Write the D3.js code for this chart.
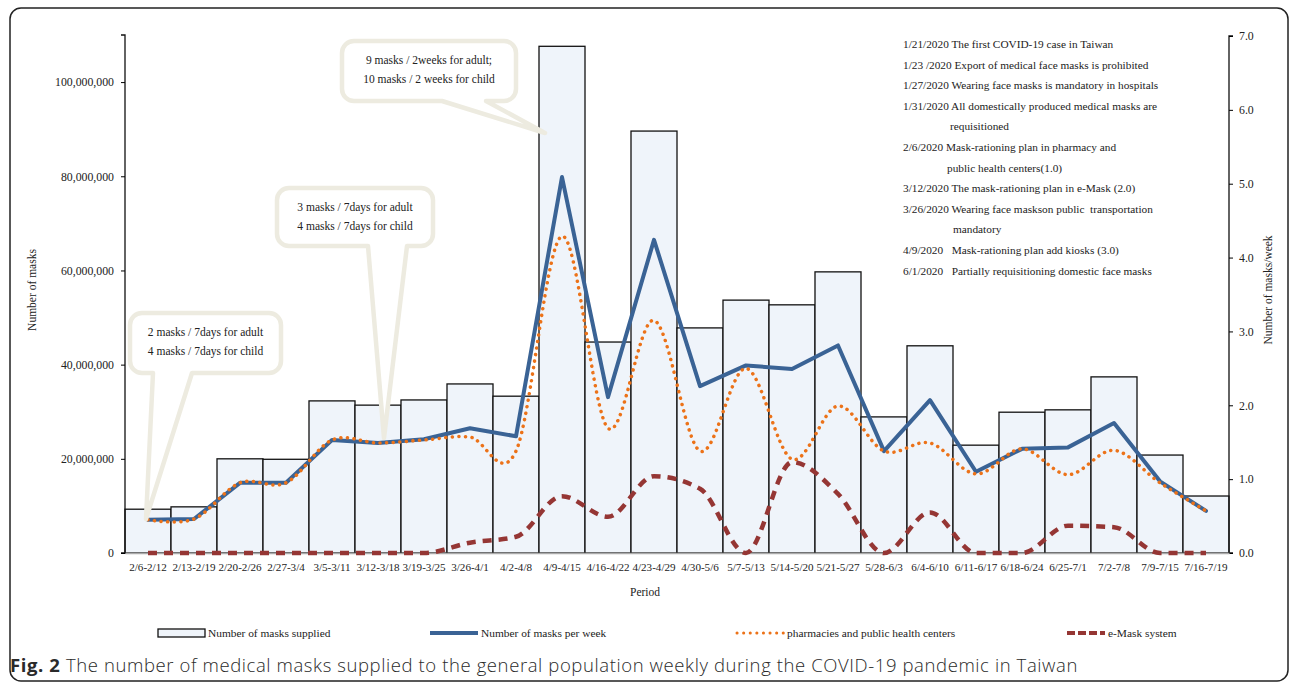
<!DOCTYPE html>
<html>
<head>
<meta charset="utf-8">
<script src="https://cdn.jsdelivr.net/npm/d3@7"></script>
<style>
  body { margin: 0; background: #fff; }
  svg text { font-family: "Liberation Serif", "Times New Roman", serif; fill: #222; white-space: pre; }
  .caption text { font-family: "Open Sans", "Noto Sans", sans-serif; fill: #2a2a2a; }
</style>
</head>
<body>
<div id="chart"></div>
<script>
// Weekly periods
const periods = ["2/6-2/12", "2/13-2/19", "2/20-2/26", "2/27-3/4", "3/5-3/11", "3/12-3/18",
  "3/19-3/25", "3/26-4/1", "4/2-4/8", "4/9-4/15", "4/16-4/22", "4/23-4/29", "4/30-5/6",
  "5/7-5/13", "5/14-5/20", "5/21-5/27", "5/28-6/3", "6/4-6/10", "6/11-6/17", "6/18-6/24",
  "6/25-7/1", "7/2-7/8", "7/9-7/15", "7/16-7/19"];

// Number of masks supplied (left axis)
const masksSupplied = [9.3e6, 9.8e6, 20.0e6, 19.9e6, 32.3e6, 31.4e6, 32.5e6, 35.9e6, 33.3e6,
  107.6e6, 44.8e6, 89.6e6, 47.8e6, 53.7e6, 52.7e6, 59.7e6, 28.9e6, 44.0e6, 22.9e6, 29.9e6,
  30.4e6, 37.4e6, 20.8e6, 12.1e6];

// Masks per week (right axis)
const perWeek = [0.45, 0.46, 0.95, 0.95, 1.53, 1.49, 1.54, 1.69, 1.58, 5.09, 2.11, 4.24,
  2.26, 2.54, 2.49, 2.81, 1.38, 2.07, 1.10, 1.41, 1.43, 1.76, 0.97, 0.57];
const pharmacies = [0.45, 0.46, 0.95, 0.95, 1.53, 1.49, 1.53, 1.57, 1.38, 4.29, 1.69, 3.15,
  1.38, 2.50, 1.27, 1.99, 1.38, 1.49, 1.07, 1.41, 1.06, 1.39, 0.95, 0.57];
const eMask = [0, 0, 0, 0, 0, 0, 0, 0.14, 0.22, 0.77, 0.49, 1.04, 0.87, 0, 1.23, 0.80, 0,
  0.55, 0, 0, 0.37, 0.35, 0, 0];

const leftTicks = [0, 20e6, 40e6, 60e6, 80e6, 100e6];
const rightTicks = [0, 1, 2, 3, 4, 5, 6, 7];

const events = [
  ["1/21/2020 The first COVID-19 case in Taiwan"],
  ["1/23 /2020 Export of medical face masks is prohibited"],
  ["1/27/2020 Wearing face masks is mandatory in hospitals"],
  ["1/31/2020 All domestically produced medical masks are", "requisitioned"],
  ["2/6/2020 Mask-rationing plan in pharmacy and", "public health centers(1.0)"],
  ["3/12/2020 The mask-rationing plan in e-Mask (2.0)"],
  ["3/26/2020 Wearing face maskson public  transportation", "mandatory"],
  ["4/9/2020   Mask-rationing plan add kiosks (3.0)"],
  ["6/1/2020   Partially requisitioning domestic face masks"]
];

const callouts = [
  { lines: ["2 masks / 7days for adult", "4 masks / 7days for child"] },
  { lines: ["3 masks / 7days for adult", "4 masks / 7days for child"] },
  { lines: ["9 masks / 2weeks for adult;", "10 masks / 2 weeks for child"] }
];

const legendItems = ["Number of masks supplied", "Number of masks per week",
  "pharmacies and public health centers", "e-Mask system"];

const W = 1292, H = 683;
const margin = { top: 35, right: 63, bottom: 130, left: 125 };
const plotW = W - margin.left - margin.right;
const plotH = H - margin.top - margin.bottom;

const svg = d3.select("#chart").append("svg")
  .attr("width", W).attr("height", H);

// Outer frame
svg.append("rect")
  .attr("x", 10).attr("y", 8).attr("width", 1278).attr("height", 673)
  .attr("rx", 11).attr("fill", "none").attr("stroke", "#222").attr("stroke-width", 1.5);

const g = svg.append("g").attr("transform", `translate(${margin.left},${margin.top})`);

const x = d3.scaleBand().domain(periods).range([0, plotW]).padding(0);
const yL = d3.scaleLinear().domain([0, 110e6]).range([plotH, 0]);
const yR = d3.scaleLinear().domain([0, 7]).range([plotH, 1]);

// Bars
g.selectAll(".bar").data(periods).enter().append("rect")
  .attr("class", "bar")
  .attr("x", d => x(d))
  .attr("width", x.bandwidth())
  .attr("y", (d, i) => yL(masksSupplied[i]))
  .attr("height", (d, i) => plotH - yL(masksSupplied[i]))
  .attr("fill", "#eff4fa").attr("stroke", "#111").attr("stroke-width", 1.3);

// Left axis
const axL = g.append("g")
  .call(d3.axisLeft(yL).tickValues(leftTicks).tickSize(4).tickPadding(7)
    .tickFormat(d3.format(",")));
axL.select(".domain").attr("d", `M-4,0H0V${plotH}H-4`).attr("stroke", "#111").attr("stroke-width", 1.3);
axL.selectAll("text").style("font-size", "11.8px").style("font-family", "Liberation Serif");

// Right axis
const axR = g.append("g").attr("transform", `translate(${plotW},0)`)
  .call(d3.axisRight(yR).tickValues(rightTicks).tickSize(4).tickPadding(6)
    .tickFormat(d3.format(".1f")));
axR.select(".domain").attr("d", `M4,1H0V${plotH}H4`).attr("stroke", "#111").attr("stroke-width", 1.3);
axR.selectAll("text").style("font-size", "11.8px").style("font-family", "Liberation Serif");

// Bottom axis
const axB = g.append("g").attr("transform", `translate(0,${plotH})`)
  .call(d3.axisBottom(x).tickSize(0).tickPadding(10));
axB.select(".domain").attr("stroke", "#aaa").attr("stroke-width", 1.5);
axB.selectAll("text").style("font-size", "11.1px").style("font-family", "Liberation Serif");

// Axis titles
g.append("text").attr("transform", "rotate(-90)")
  .attr("x", -255).attr("y", -89).attr("text-anchor", "middle")
  .style("font-size", "11.5px").text("Number of masks");
g.append("text").attr("transform", "rotate(-90)")
  .attr("x", -255).attr("y", plotW + 43).attr("text-anchor", "middle")
  .style("font-size", "11.5px").text("Number of masks/week");
g.append("text").attr("x", 520).attr("y", plotH + 43).attr("text-anchor", "middle")
  .style("font-size", "11.5px").text("Period");

// Speech bubble callouts
function bubble(b) {
  const r = 12;
  return `M${b.x0 + r},${b.y0}H${b.x1 - r}A${r},${r} 0 0 1 ${b.x1},${b.y0 + r}` +
    `V${b.y1 - r}A${r},${r} 0 0 1 ${b.x1 - r},${b.y1}H${b.bB}L${b.tx},${b.ty}L${b.bA},${b.y1}` +
    `H${b.x0 + r}A${r},${r} 0 0 1 ${b.x0},${b.y1 - r}V${b.y0 + r}A${r},${r} 0 0 1 ${b.x0 + r},${b.y0}Z`;
}
const boxes = [
  { x0: 130, y0: 313, x1: 281, y1: 373, bA: 153, bB: 192, tx: 146, ty: 519 },
  { x0: 277, y0: 188, x1: 433, y1: 246, bA: 368, bB: 407, tx: 384, ty: 438 },
  { x0: 342, y0: 41, x1: 516, y1: 101, bA: 442, bB: 486, tx: 545, ty: 133 }
];
boxes.forEach((b, i) => {
  svg.append("path").attr("d", bubble(b))
    .attr("fill", "#fff").attr("stroke", "#edebe0").attr("stroke-width", 4.5)
    .attr("stroke-linejoin", "round");
  const cx = (b.x0 + b.x1) / 2;
  callouts[i].lines.forEach((t, j) => {
    svg.append("text").attr("x", cx).attr("y", b.y0 + 23 + j * 19)
      .attr("text-anchor", "middle").style("font-size", "11.5px").text(t);
  });
});

// Lines
const cx = (d, i) => x(periods[i]) + x.bandwidth() / 2;
const lineLin = d3.line().x(cx).y(d => yR(d));
const lineSmooth = d3.line().x(cx).y(d => yR(d)).curve(d3.curveCardinal.tension(0));
const lineMono = d3.line().x(cx).y(d => yR(d)).curve(d3.curveMonotoneX);

g.append("path").datum(perWeek).attr("d", lineLin)
  .attr("fill", "none").attr("stroke", "#3a6395").attr("stroke-width", 4)
  .attr("stroke-linejoin", "round").attr("stroke-linecap", "round");
g.append("path").datum(pharmacies).attr("d", lineSmooth)
  .attr("fill", "none").attr("stroke", "#ec7218").attr("stroke-width", 3.5)
  .attr("stroke-dasharray", "0.1 6.5").attr("stroke-linecap", "round");
g.append("path").datum(eMask).attr("d", lineMono)
  .attr("fill", "none").attr("stroke", "#953634").attr("stroke-width", 4.5)
  .attr("stroke-dasharray", "9 7").attr("stroke-linecap", "butt");

// Event list
let ey = 48;
const eventLineGap = 20.6;
events.forEach(ev => {
  svg.append("text").attr("x", 903).attr("y", ey).style("font-size", "11.3px").text(ev[0]);
  ey += eventLineGap;
  if (ev[1]) {
    const indent = ev[1] === "mandatory" ? 953 : (ev[1] === "requisitioned" ? 950 : 947);
    svg.append("text").attr("x", indent).attr("y", ey).style("font-size", "11.3px").text(ev[1]);
    ey += eventLineGap;
  }
});

// Legend
const lg = svg.append("g").style("font-size", "11.4px");
const lx = [158, 430, 736, 1067];
lg.append("rect").attr("x", lx[0]).attr("y", 629).attr("width", 47).attr("height", 8)
  .attr("fill", "#eff4fa").attr("stroke", "#111").attr("stroke-width", 1.3);
lg.append("line").attr("x1", lx[1]).attr("x2", lx[1] + 48).attr("y1", 633).attr("y2", 633)
  .attr("stroke", "#3a6395").attr("stroke-width", 4);
lg.append("line").attr("x1", lx[2] + 1).attr("x2", lx[2] + 48).attr("y1", 633).attr("y2", 633)
  .attr("stroke", "#ec7218").attr("stroke-width", 3).attr("stroke-dasharray", "0.1 6.5")
  .attr("stroke-linecap", "round");
lg.append("line").attr("x1", lx[3]).attr("x2", lx[3] + 38).attr("y1", 633).attr("y2", 633)
  .attr("stroke", "#953634").attr("stroke-width", 4).attr("stroke-dasharray", "8 3");
const lt = [208, 481, 787, 1108];
legendItems.forEach((t, i) => {
  lg.append("text").attr("x", lt[i]).attr("y", 637).text(t);
});

// Caption, stretched to the same width as in the figure
const cap = svg.append("g").attr("class", "caption").append("text")
  .attr("x", 10).attr("y", 672).style("font-size", "18.5px");
cap.append("tspan").style("font-weight", "bold").text("Fig. 2");
const capRest = " The number of medical masks supplied to the general population weekly during the COVID-19 pandemic in Taiwan";
cap.append("tspan").style("font-weight", "300").text(capRest);
const capW = cap.node().getComputedTextLength();
const spacing = (1068 - capW) / (capRest.length + 6);
cap.style("letter-spacing", Math.max(0, spacing) + "px");
</script>
</body>
</html>
